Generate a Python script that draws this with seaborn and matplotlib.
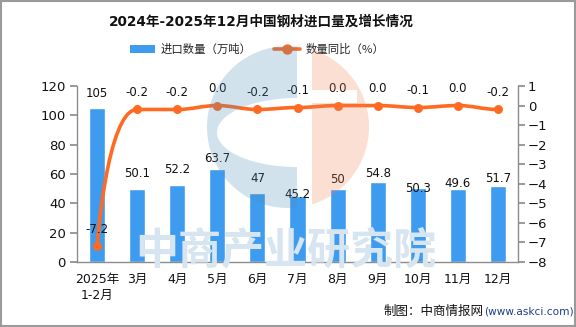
import numpy as np
import pandas as pd
import matplotlib
matplotlib.use("Agg")
import matplotlib.pyplot as plt
from matplotlib.path import Path
from matplotlib.patches import PathPatch, Patch, Rectangle
from matplotlib.lines import Line2D
import seaborn as sns

# ---- data ----
categories = ["2025年\n1-2月", "3月", "4月", "5月", "6月", "7月", "8月",
              "9月", "10月", "11月", "12月"]
import_volume = [105, 50.1, 52.2, 63.7, 47, 45.2, 50, 54.8, 50.3, 49.6, 51.7]
yoy_change = [-7.2, -0.2, -0.2, 0.0, -0.2, -0.1, 0.0, 0.0, -0.1, 0.0, -0.2]
left_ticks = [0, 20, 40, 60, 80, 100, 120]
right_ticks = [-8, -7, -6, -5, -4, -3, -2, -1, 0, 1]

# ---- style ----
BAR_COLOR = "#3E9CF0"
LINE_COLOR = "#FF6A22"
AXIS_COLOR = "#8C8C8C"
W, H = 576, 327
# gap (px) between each bar top and its value label
bar_label_gap = [15, 15, 16, 10, 15, 1, 9, 8, 0, 6, 8]

sns.set_theme(style="white")
plt.rcParams["font.family"] = ["DejaVu Sans", "Noto Sans CJK SC"]
plt.rcParams["axes.unicode_minus"] = True

fig = plt.figure(figsize=(W / 100, H / 100), dpi=100, facecolor="white")

# faint brand text behind the plot
fig.text(286 / W, 1 - 250 / H, "中商产业研究院", fontsize=31, fontweight="bold",
         color="#D6E5F0", ha="center", va="center",
         family=["Noto Sans CJK SC"], zorder=0)

ax = fig.add_axes([77 / W, 1 - 262 / H, (518 - 77) / W, (262 - 86) / H])
ax.patch.set_visible(False)

df = pd.DataFrame({"month": categories, "volume": import_volume, "yoy": yoy_change})
sns.barplot(data=df, x="month", y="volume", color=BAR_COLOR, width=0.4,
            saturation=1, ax=ax, zorder=2)
ax.set_xlim(-0.5, len(categories) - 0.5)
ax.set_ylim(0, 120)
ax.set_yticks(left_ticks)
ax.set_xlabel("")
ax.set_ylabel("")

# category boundaries as tick marks, labels at centers
ax.set_xticks(np.arange(-0.5, len(categories), 1))
ax.set_xticklabels([])
ax.set_xticks(np.arange(len(categories)), minor=True)
ax.set_xticklabels(categories, minor=True, fontsize=9, linespacing=1.25)
ax.tick_params(axis="x", which="major", length=4, color=AXIS_COLOR, direction="out")
ax.tick_params(axis="x", which="minor", length=0, pad=8, labelcolor="#111111")
ax.tick_params(axis="y", length=5, color=AXIS_COLOR, direction="out", pad=3,
               labelsize=9.5, labelcolor="#111111", left=True)
for side in ("top", "right"):
    ax.spines[side].set_visible(False)
for side in ("left", "bottom"):
    ax.spines[side].set_color(AXIS_COLOR)
    ax.spines[side].set_linewidth(1)

for i, v in enumerate(import_volume):
    ax.annotate(f"{v:g}", (i, v), xytext=(0, bar_label_gap[i] * 0.72),
                textcoords="offset points", ha="center", va="center",
                fontsize=8.5, color="#111111", zorder=4)

# ---- growth line on the right axis ----
ax2 = ax.twinx()
ax2.set_ylim(-8, 1)
ax2.set_yticks(right_ticks)
ax2.tick_params(axis="y", length=5, color=AXIS_COLOR, direction="out", pad=2,
                labelsize=9.5, labelcolor="#111111", right=True)
for side in ("top", "left", "bottom"):
    ax2.spines[side].set_visible(False)
ax2.spines["right"].set_color(AXIS_COLOR)
ax2.spines["right"].set_linewidth(1)

# smooth curve: flat tangents at inner points, first segment leaves straight
xs = np.arange(len(yoy_change), dtype=float)
ys = np.asarray(yoy_change, dtype=float)
verts = [(xs[0], ys[0])]
codes = [Path.MOVETO]
for i in range(len(xs) - 1):
    step = xs[i + 1] - xs[i]
    if i == 0:
        c1 = (xs[i], ys[i])
        c2 = (xs[i + 1] - 0.75 * step, ys[i + 1])
    else:
        c1 = (xs[i] + 0.4 * step, ys[i])
        c2 = (xs[i + 1] - 0.4 * step, ys[i + 1])
    verts += [c1, c2, (xs[i + 1], ys[i + 1])]
    codes += [Path.CURVE4, Path.CURVE4, Path.CURVE4]
ax2.add_patch(PathPatch(Path(verts, codes), fill=False, edgecolor=LINE_COLOR,
                        linewidth=2.6, capstyle="round", zorder=3))
sns.scatterplot(x=xs, y=ys, color=LINE_COLOR, s=42, edgecolor=LINE_COLOR,
                linewidth=0, ax=ax2, zorder=4, legend=False)
for x, v in zip(xs, yoy_change):
    ax2.annotate(f"{v:.1f}", (x, v), xytext=(0, 17 * 0.72), textcoords="offset points",
                 ha="center", va="center", fontsize=8.5, color="#111111", zorder=5)
ax2.set_xlim(-0.5, len(categories) - 0.5)

# ---- emblem overlay ----
ov = fig.add_axes([0, 0, 1, 1], zorder=10)
ov.set_xlim(0, W)
ov.set_ylim(H, 0)
ov.axis("off")
ov.patch.set_visible(False)
cx, cy, r = 288, 127, 81
# left blue "C"
xb = 297
dy = np.sqrt(r ** 2 - (xb - cx) ** 2)
top_ang = np.arctan2(-dy, xb - cx)
bot_ang = np.arctan2(dy, xb - cx)
outer = np.linspace(top_ang, bot_ang - 2 * np.pi, 120)
outer_pts = np.column_stack([cx + r * np.cos(outer), cy + r * np.sin(outer)])
phi = np.linspace(np.pi / 2, 3 * np.pi / 2, 80)
inner_pts = np.column_stack([xb + 80 * np.cos(phi), 132.5 + 34.5 * np.sin(phi)])
blue_poly = np.vstack([outer_pts, inner_pts])
ov.fill(blue_poly[:, 0], blue_poly[:, 1], color="#4A8DB8", alpha=0.25, lw=0)
# right salmon half
xp = 312
dyp = np.sqrt(r ** 2 - (xp - cx) ** 2)
t0 = np.arctan2(-dyp, xp - cx)
t1 = np.arctan2(dyp, xp - cx)
arc = np.linspace(t0, t1, 100)
arc_pts = np.column_stack([cx + r * np.cos(arc), cy + r * np.sin(arc)])
notch = np.array([[xp, 103], [357, 103], [357, 90], [xp, 90]])
pink_poly = np.vstack([arc_pts, notch])
ov.fill(pink_poly[:, 0], pink_poly[:, 1], color="#F08050", alpha=0.25, lw=0)

# ---- title, legend, source, frame ----
fig.text(261 / W, 1 - 22 / H, "2024年-2025年12月中国钢材进口量及增长情况",
         ha="center", va="center", fontsize=9.8, fontweight="bold",
         family=["DejaVu Sans", "Noto Sans CJK SC"], color="#111111")
handles = [Patch(facecolor=BAR_COLOR, edgecolor="none"),
           Line2D([0], [0], color=LINE_COLOR, lw=2.6, marker="o", markersize=6.5)]
fig.legend(handles, ["进口数量（万吨）", "数量同比（%）"], loc="center",
           bbox_to_anchor=(257 / W, 1 - 49 / H), ncol=2, frameon=False,
           handlelength=2.2, handleheight=0.7, columnspacing=2.0,
           handletextpad=0.5, prop={"family": ["Noto Sans CJK SC", "DejaVu Sans"], "size": 8.2})
fig.text(484 / W, 1 - 311 / H, "制图：中商情报网", ha="right", va="center",
         fontsize=9, family=["Noto Sans CJK SC"], color="#111111")
fig.text(484 / W, 1 - 311 / H, "(www.askci.com)", ha="left", va="center",
         fontsize=7.6, family=["DejaVu Sans"], color="#1F3C88")
fig.patches.append(Rectangle((0.001, 0.002), 0.997, 0.995, transform=fig.transFigure,
                             fill=False, edgecolor="#9A9A9A", linewidth=1.5))

fig.savefig("out.png", dpi=100, facecolor="white")
